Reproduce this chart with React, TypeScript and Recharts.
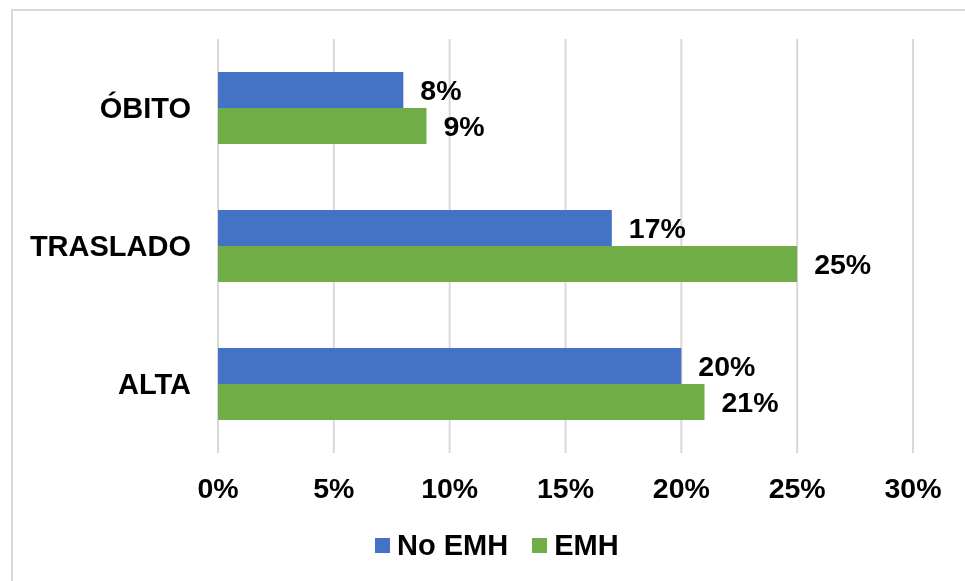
import { BarChart, Bar, XAxis, YAxis, CartesianGrid, LabelList, Legend } from "recharts";

const categories = ["ÓBITO", "TRASLADO", "ALTA"];
const noEmh = [8, 17, 20];
const emh = [9, 25, 21];
const xTicks = [0, 5, 10, 15, 20, 25, 30];

const SERIES = [
    { key: "noEmh", name: "No EMH", color: "#4472C4" },
    { key: "emh",   name: "EMH",    color: "#70AD47" },
];

const FONT = "'Liberation Sans', Arial, sans-serif";
const xTick = { fill: "#000", fontSize: 28.5, fontWeight: 700, fontFamily: FONT };
const yTick = { fill: "#000", fontSize: 29, fontWeight: 700, fontFamily: FONT };
const label = { fill: "#000", fontSize: 28.5, fontWeight: 700, fontFamily: FONT };

const data = categories.map((c, i) => ({ cat: c, noEmh: noEmh[i], emh: emh[i] }));

function LegendBox() {
    return (
        <div style={{ display: "flex", alignItems: "center", fontFamily: FONT, fontSize: 29, fontWeight: 700, color: "#000" }}>
            {SERIES.map((s, i) => (
                <span key={s.key} style={{ display: "flex", alignItems: "center", marginRight: i === 0 ? 24 : 0 }}>
                    <span style={{ width: 15, height: 15, background: s.color, marginRight: 7, display: "inline-block" }} />
                    {s.name}
                </span>
            ))}
        </div>
    );
}

export default function App() {
    return (
        <div>
            <div style={{
                position: "fixed", left: 11, top: 9, width: 990, height: 600,
                border: "2px solid #d9d9d9", boxSizing: "border-box",
            }} />
            <div style={{ position: "fixed", left: 0, top: 0 }}>
                <BarChart
                    width={965}
                    height={581}
                    data={data}
                    layout="vertical"
                    margin={{ top: 39, right: 52, left: 0, bottom: 68 }}
                    barSize={36}
                    barGap={0}
                >
                    <CartesianGrid horizontal={false} stroke="#d9d9d9" strokeWidth={2} />
                    <XAxis
                        type="number"
                        domain={[0, 30]}
                        ticks={xTicks}
                        tickFormatter={(v: number) => `${v}%`}
                        axisLine={false}
                        tickLine={false}
                        tickSize={0}
                        tickMargin={25}
                        height={60}
                        tick={xTick}
                        interval={0}
                    />
                    <YAxis
                        type="category"
                        dataKey="cat"
                        width={218}
                        axisLine={false}
                        tickLine={false}
                        tickSize={0}
                        tickMargin={27}
                        tick={yTick}
                    />
                    <Legend
                        layout="horizontal"
                        verticalAlign="middle"
                        align="center"
                        wrapperStyle={{ left: 375, top: 529, width: "auto" }}
                        content={() => <LegendBox />}
                    />
                    {SERIES.map(s => (
                        <Bar key={s.key} dataKey={s.key} name={s.name} fill={s.color} isAnimationActive={false}>
                            <LabelList dataKey={s.key} position="right" offset={17} formatter={(v: number) => `${v}%`} style={label} />
                        </Bar>
                    ))}
                </BarChart>
            </div>
        </div>
    );
}
